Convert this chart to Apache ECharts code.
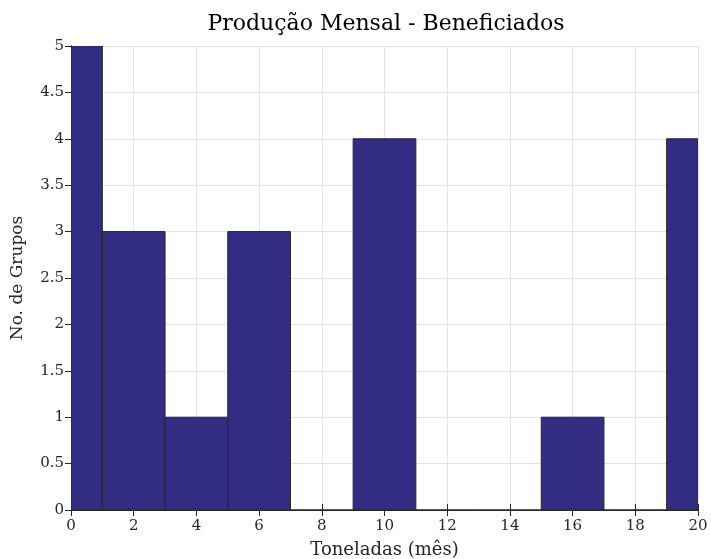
<!DOCTYPE html>
<html><head><meta charset="utf-8">
<script src="https://cdn.jsdelivr.net/npm/echarts@6/dist/echarts.min.js"></script>
<style>html,body{margin:0;padding:0;background:#fff}#c{width:711px;height:559px}</style>
</head><body><div id="c"></div>
<script>
const binEdges = [-1, 1, 3, 5, 7, 9, 11, 13, 15, 17, 19, 21];
const counts = [5, 3, 1, 3, 0, 4, 0, 0, 1, 0, 4];
const xTicks = [0, 2, 4, 6, 8, 10, 12, 14, 16, 18, 20];
const title = 'Produção Mensal - Beneficiados';
const xName = 'Toneladas (mês)';
const yName = 'No. de Grupos';

const F = 'DejaVu Serif';
const bars = counts.map((c, i) => [binEdges[i], binEdges[i + 1], c]);
const chart = echarts.init(document.getElementById('c'));
const axisLine = { show: true, lineStyle: { color: '#262626', width: 1 } };
chart.setOption({
  animation: false,
  textStyle: { fontFamily: F },
  title: { text: title, left: 386, top: 13, textAlign: 'center', padding: 0,
    textStyle: { fontFamily: F, fontSize: 22, fontWeight: 'normal', color: '#000' } },
  grid: { left: 71, right: 13, top: 46, bottom: 49, outerBoundsMode: 'none', containLabel: false },
  xAxis: [{
    type: 'value', min: 0, max: 20, interval: 2,
    axisLine, axisTick: { inside: true, length: 6, lineStyle: { color: '#262626' } },
    axisLabel: { fontFamily: F, fontSize: 15, color: '#262626', margin: 9 },
    splitLine: { show: true, lineStyle: { color: '#e3e3e3' } },
    name: xName, nameLocation: 'middle', nameGap: 31,
    nameTextStyle: { fontFamily: F, fontSize: 18, color: '#262626' }
  }, {
    type: 'value', position: 'top', min: 0, max: 20, interval: 2,
    axisLine, axisTick: { inside: true, length: 6, lineStyle: { color: '#262626' } },
    axisLabel: { show: false }, splitLine: { show: false }
  }],
  yAxis: [{
    type: 'value', min: 0, max: 5, interval: 0.5,
    axisLine, axisTick: { inside: true, length: 6, lineStyle: { color: '#262626' } },
    axisLabel: { fontFamily: F, fontSize: 15, color: '#262626', margin: 7 },
    splitLine: { show: true, lineStyle: { color: '#e3e3e3' } },
    name: yName, nameLocation: 'middle', nameGap: 45,
    nameTextStyle: { fontFamily: F, fontSize: 17, color: '#262626' }
  }, {
    type: 'value', position: 'right', min: 0, max: 5, interval: 0.5,
    axisLine, axisTick: { inside: true, length: 6, lineStyle: { color: '#262626' } },
    axisLabel: { show: false }, splitLine: { show: false }
  }],
  series: [{
    type: 'custom', clip: true, xAxisIndex: 0, yAxisIndex: 0,
    data: bars,
    renderItem: function (params, api) {
      const p0 = api.coord([api.value(0), 0]);
      const p1 = api.coord([api.value(1), api.value(2)]);
      const shape = echarts.graphic.clipRectByRect({
        x: p0[0], y: p1[1], width: p1[0] - p0[0], height: p0[1] - p1[1]
      }, {
        x: params.coordSys.x, y: params.coordSys.y,
        width: params.coordSys.width, height: params.coordSys.height + 1
      });
      return shape && {
        type: 'rect', shape: shape,
        style: { fill: '#332c83', stroke: '#262626', lineWidth: 1 }
      };
    },
    encode: { x: [0, 1], y: 2 }
  }]
});
</script></body></html>
